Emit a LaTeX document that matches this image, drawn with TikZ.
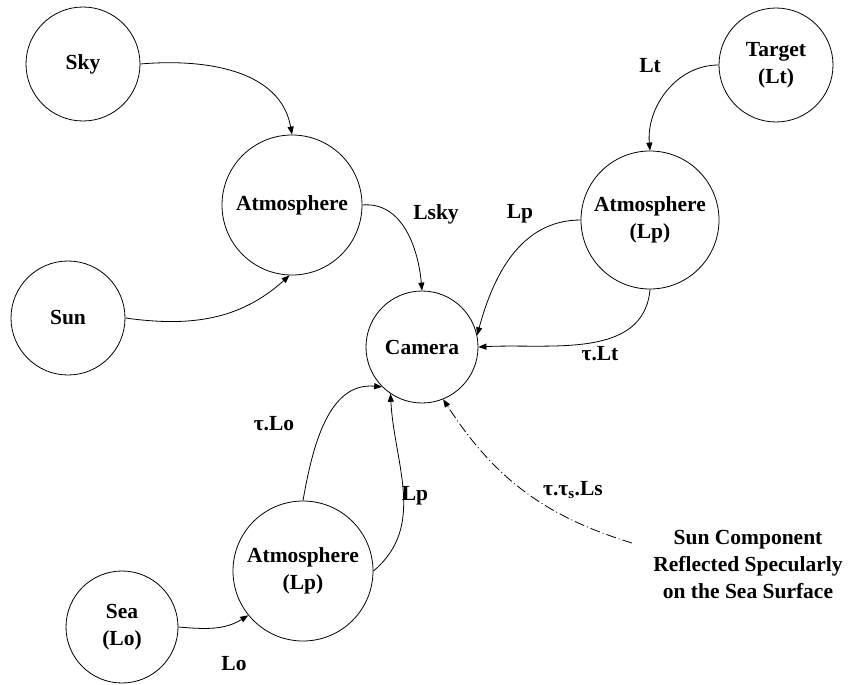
\documentclass[tikz,border=0pt]{standalone}
\usepackage{fontspec}
\setmainfont{Liberation Serif}
\usetikzlibrary{arrows.meta}
\begin{document}
\begin{tikzpicture}[x=1pt,y=-1pt,
  every node/.style={font=\fontsize{21.5}{27}\selectfont\bfseries},
  bubble/.style={draw, circle, inner sep=0pt, line width=0.8pt, align=center},
  lbl/.style={inner sep=0pt},
  link/.style={line width=0.8pt, -{Triangle[length=8pt,width=6pt]}},
  spec/.style={link, dash pattern=on 10pt off 3pt on 1pt off 3pt}]
\useasboundingbox (0,0) rectangle (849,685);
\node[bubble, minimum size=114pt] (sky) at (83,64) {Sky};
\node[bubble, minimum size=140pt] (atm) at (292,205) {Atmosphere};
\node[bubble, minimum size=114pt] (sun) at (68,318) {Sun};
\node[bubble, minimum size=112pt] (cam) at (422,347) {Camera};
\node[bubble, minimum size=114pt] (tgt) at (776,65) {Target\\(Lt)};
\node[bubble, minimum size=138pt] (atmr) at (650,220) {Atmosphere\\(Lp)};
\node[bubble, minimum size=140pt] (atmb) at (303,571) {Atmosphere\\(Lp)};
\node[bubble, minimum size=112pt] (sea) at (122,627) {Sea\\(Lo)};
\node[lbl, align=center] (spectxt) at (748,565) {Sun Component\\Reflected Specularly\\on the Sea Surface};
\coordinate (specstart) at (632,543);

\node[lbl] (lsky) at (436,214) {Lsky};
\node[lbl] (lp1) at (520,214) {Lp};
\node[lbl] (lt) at (650,66) {Lt};
\node[lbl] (tlt) at (600,354) {τ.Lt};
\node[lbl] (tlo) at (274,424) {τ.Lo};
\node[lbl] (lp2) at (415,496) {Lp};
\node[lbl] (lo) at (234,664) {Lo};
\node[lbl] (tls) at (573,490) {τ.τ\textsubscript{s}.Ls};

\draw[link] (sky.east) to[out=5,in=100] (atm.north);
\draw[link] (sun.east) to[out=-8,in=-138] (atm.-92);
\draw[link] (atm.east) to[out=5,in=95] (cam.north);
\draw[link] (tgt.west) to[out=180,in=95] (atmr.north);
\draw[link] (atmr.west) to[out=180,in=75] (cam.12);
\draw[link] (atmr.south) to[out=-95,in=3] (cam.east);
\draw[link] (atmb.north) to[out=80,in=175] (cam.-135);
\draw[link] (atmb.east) to[out=40,in=-87] (cam.-124);
\draw[link] (sea.east) to[out=-5,in=212] (atmb.-141);
\draw[spec] (specstart) to[out=163,in=-57] (cam.-68);
\end{tikzpicture}
\end{document}
